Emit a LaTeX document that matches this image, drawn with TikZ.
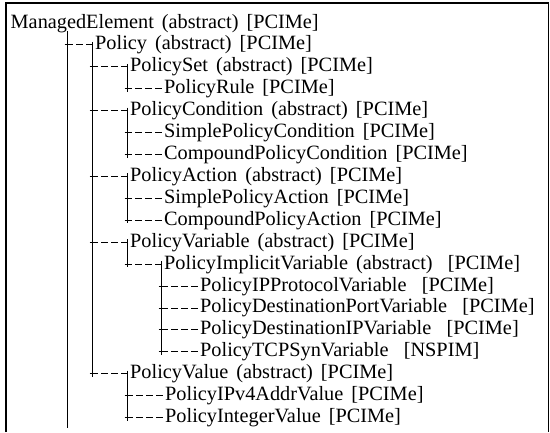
\documentclass[tikz,border=0pt]{standalone}
\usepackage{fontspec}
\setmainfont{Liberation Serif}
\usetikzlibrary{calc}
\newcommand{\lblfont}{\fontsize{20.3}{22}\selectfont\spaceskip 8pt plus 1pt\relax}
\tikzset{
  lbl/.style={anchor=base west, inner xsep=2.5pt, inner ysep=0pt, text height=14pt, text depth=4pt,
    font=\lblfont},
  treeline/.style={line width=0.9pt},
  longline/.style={line width=1.7pt},
  dashes/.style={line width=0.9pt, dash pattern=on 6.5pt off 3.5pt},
  framelines/.style={line width=1.1pt},
}
\newcommand{\dgap}{\hspace{0.75em}}
\newcommand{\plusmark}[1]{\draw[treeline] ($(#1)+(-3,0)$) -- ($(#1)+(3,0)$) ($(#1)+(0,-3)$) -- ($(#1)+(0,3)$);}
% child connector: parent line point #1, child node #2
\newcommand{\childlink}[2]{%
  \coordinate (pl-#2) at (#2.west -| #1);
  \plusmark{pl-#2}
  \draw[dashes] (#2.west) -- ($(pl-#2)+(3,0)$);}
\newcommand{\kidline}[2]{\draw[treeline] ($(#1.west)+(0,-3)$) -- (#2.west -| #1.west);}
\begin{document}
\begin{tikzpicture}[x=1pt,y=-1pt]
\useasboundingbox (0,0) rectangle (550,432);
\draw[framelines] (6,432) -- (6,3) -- (548.5,3) -- (548.5,432);

\node[lbl] (n0) at (8,28) {ManagedElement (abstract) [PCIMe]};
\node[lbl] (n1) at (92.5,49.92) {Policy (abstract) [PCIMe]};
\node[lbl] (n2) at (127.5,71.84) {PolicySet (abstract) [PCIMe]};
\node[lbl] (n3) at (161.5,93.76) {PolicyRule [PCIMe]};
\node[lbl] (n4) at (127.5,115.68) {PolicyCondition (abstract) [PCIMe]};
\node[lbl] (n5) at (161.5,137.6) {SimplePolicyCondition [PCIMe]};
\node[lbl] (n6) at (161.5,159.52) {CompoundPolicyCondition [PCIMe]};
\node[lbl] (n7) at (127.5,181.44) {PolicyAction (abstract) [PCIMe]};
\node[lbl] (n8) at (161.5,203.36) {SimplePolicyAction [PCIMe]};
\node[lbl] (n9) at (161.5,225.28) {CompoundPolicyAction [PCIMe]};
\node[lbl] (n10) at (127.5,247.2) {PolicyVariable (abstract) [PCIMe]};
\node[lbl] (n11) at (161.5,269.12) {PolicyImplicitVariable (abstract)\dgap[PCIMe]};
\node[lbl] (n12) at (197.5,291.04) {PolicyIPProtocolVariable\dgap[PCIMe]};
\node[lbl] (n13) at (197.5,312.96) {PolicyDestinationPortVariable\dgap[PCIMe]};
\node[lbl] (n14) at (197.5,334.88) {PolicyDestinationIPVariable\dgap[PCIMe]};
\node[lbl] (n15) at (197.5,356.8) {PolicyTCPSynVariable\dgap[NSPIM]};
\node[lbl] (n16) at (127.5,378.72) {PolicyValue (abstract) [PCIMe]};
\node[lbl] (n17) at (162.5,400.64) {PolicyIPv4AddrValue [PCIMe]};
\node[lbl] (n18) at (162.5,422.56) {PolicyIntegerValue [PCIMe]};

% root line
\coordinate (r0) at (67.5,31);
\coordinate (r0end) at (67.5,428);
\draw[longline] (r0) -- (r0end);
\childlink{r0}{n1}

% Policy children
\draw[longline] ($(n1.west)+(0,-3)$) -- (n16.west -| n1.west);
\childlink{n1.west}{n2}
\childlink{n1.west}{n4}
\childlink{n1.west}{n7}
\childlink{n1.west}{n10}
\childlink{n1.west}{n16}

\kidline{n2}{n3}
\childlink{n2.west}{n3}

\kidline{n4}{n6}
\childlink{n4.west}{n5}
\childlink{n4.west}{n6}

\kidline{n7}{n9}
\childlink{n7.west}{n8}
\childlink{n7.west}{n9}

\kidline{n10}{n11}
\childlink{n10.west}{n11}

\kidline{n11}{n15}
\childlink{n11.west}{n12}
\childlink{n11.west}{n13}
\childlink{n11.west}{n14}
\childlink{n11.west}{n15}

\kidline{n16}{n18}
\childlink{n16.west}{n17}
\childlink{n16.west}{n18}
\end{tikzpicture}
\end{document}
